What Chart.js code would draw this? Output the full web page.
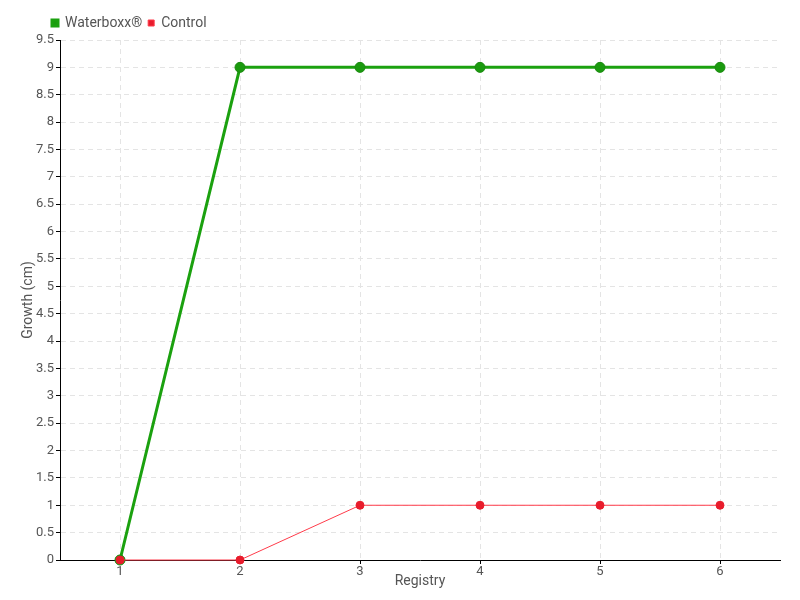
<!DOCTYPE html>
<html>
<head>
<meta charset="utf-8">
<script src="https://cdn.jsdelivr.net/npm/chart.js@4/dist/chart.umd.min.js"></script>
<style>
  html, body { margin: 0; padding: 0; background: #fff; }
  #wrap { width: 800px; height: 600px; }
</style>
</head>
<body>
<div id="wrap"><canvas id="growthChart" width="800" height="600"></canvas></div>
<script>
// registros (eixo x)
const registry = ['1', '2', '3', '4', '5', '6'];
// crescimento em cm
const waterboxx = [0, 9, 9, 9, 9, 9];
const control = [0, 0, 1, 1, 1, 1];

const fontFamily = "Roboto, 'Liberation Sans', sans-serif";
Chart.defaults.font.family = fontFamily;
Chart.defaults.font.size = 14;
Chart.defaults.color = '#555';

// empurra a legenda para a direita, alinhada ao eixo
const legendShift = {
    id: 'legendShift',
    afterLayout(chart) {
        chart.legend.left += 46;
        chart.legend.right += 46;
    }
};

const growthData = {
    labels: registry,
    datasets: [{
        label: 'Waterboxx®',
        data: waterboxx,
        borderColor: '#1ba10f',
        backgroundColor: '#1a9a0e',
        pointBorderColor: '#1a8a10',
        borderWidth: 3,
        pointRadius: 5,
        pointBorderWidth: 1,
        tension: 0,
        clip: false,
        order: 1
    }, {
        label: 'Control',
        data: control,
        borderColor: '#ff3b4a',
        backgroundColor: '#e81c2c',
        pointBorderColor: '#e81c2c',
        borderWidth: 1,
        pointRadius: 4,
        pointBorderWidth: 1,
        tension: 0,
        clip: false,
        order: 0
    }]
};

const growthConfig = {
    type: 'line',
    data: growthData,
    plugins: [legendShift],
    options: {
        responsive: false,
        animation: false,
        layout: { padding: { left: 0, right: 20, top: 10, bottom: 0 } },
        plugins: {
            legend: {
                align: 'start',
                labels: {
                    boxWidth: 6,
                    boxHeight: 6,
                    padding: 6,
                    color: '#555',
                    sort: (a, b) => a.datasetIndex - b.datasetIndex
                }
            },
            tooltip: { enabled: false }
        },
        scales: {
            x: {
                offset: true,
                grid: {
                    offset: false,
                    color: '#e4e4e4',
                    tickColor: '#000',
                    tickLength: 4
                },
                border: { color: '#000', width: 1, dash: [5, 4] },
                ticks: { color: '#555', padding: 0, font: { size: 13 } },
                title: { display: true, text: 'Registry', color: '#555', padding: { top: 0, bottom: 10 } },
                afterFit: (scale) => { scale.height = 40; }
            },
            y: {
                min: 0,
                max: 9.5,
                grid: {
                    color: '#e4e4e4',
                    tickColor: '#000',
                    tickLength: 4
                },
                border: { color: '#000', width: 1, dash: [5, 4] },
                ticks: {
                    stepSize: 0.5,
                    color: '#555',
                    padding: 2,
                    font: { size: 13 },
                    callback: (v) => String(Number(v))
                },
                title: { display: true, text: 'Growth (cm)', color: '#555', padding: { top: 20, bottom: 0 } },
                afterFit: (scale) => { scale.width = 60; }
            }
        }
    }
};

var growthChart = new Chart(
    document.getElementById('growthChart'),
    growthConfig
);
</script>
</body>
</html>
